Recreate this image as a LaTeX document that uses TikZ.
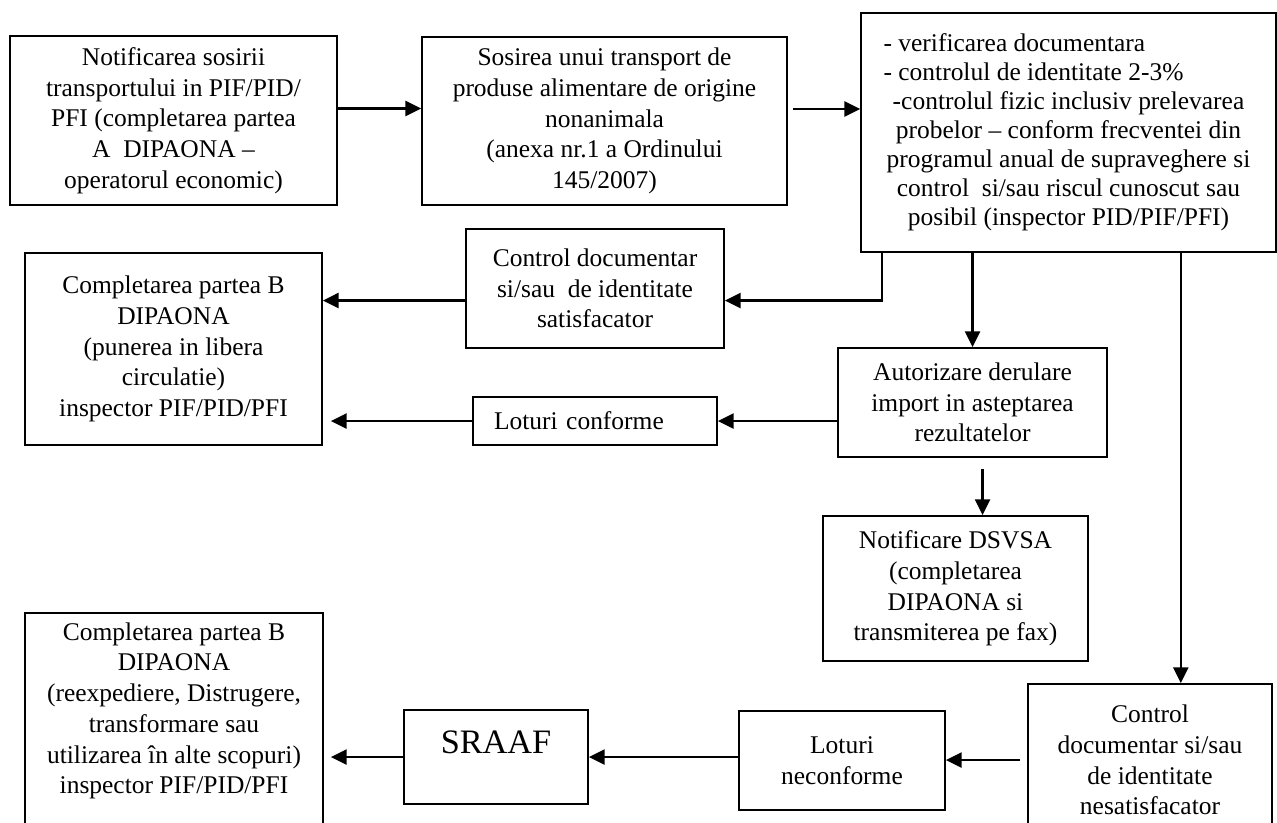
\documentclass[tikz,border=0pt]{standalone}
\usepackage{fontspec}
\setmainfont{Liberation Serif}
\usetikzlibrary{arrows.meta, positioning, calc}

\begin{document}
\begin{tikzpicture}[x=0.02cm, y=-0.02cm,
    every node/.style={font=\fontsize{14.5}{17.5}\selectfont},
    box/.style={draw, line width=1pt, align=center, inner sep=2pt},
    arr/.style={line width=1.5pt, -{Triangle[length=9pt, width=8.5pt]}}]
  \useasboundingbox (0,0) rectangle (1277,822);
  % Row 1: arrival
  \node[box, minimum width=6.54cm, minimum height=3.38cm] (notif) at (173.5,120.5)
    {Notificarea sosirii\\ transportului in PIF/PID/\\ PFI (completarea partea\\ A\ \ DIPAONA –\\ operatorul economic)};
  \node[box, minimum width=7.3cm, minimum height=3.36cm] (sosire) at (604.5,121)
    {Sosirea unui transport de\\ produse alimentare de origine\\ nonanimala\\ (anexa nr.1 a Ordinului\\ 145/2007)};
  \node[box, minimum width=8.3cm, minimum height=4.78cm, font=\fontsize{14.5}{16.5}\selectfont] (verif) at (1068.5,132.5)
    {\makebox[7.4cm][l]{- verificarea documentara}\\
     \makebox[7.4cm][l]{- controlul de identitate 2-3\%}\\
     -controlul fizic inclusiv prelevarea\\ probelor – conform frecventei din\\
     programul anual de supraveghere si\\ control\ \ si/sau riscul cunoscut sau\\
     posibil (inspector PID/PIF/PFI)};
  % Row 2: satisfactory control
  \node[box, minimum width=5.16cm, minimum height=2.38cm] (ctrlok) at (595,288.5)
    {Control documentar\\ si/sau\ \ de identitate\\ satisfacator};
  \node[box, minimum width=5.94cm, minimum height=3.84cm] (liberB) at (173.5,349)
    {Completarea partea B\\ DIPAONA\\ (punerea in libera\\ circulatie)\\ inspector PIF/PID/PFI};
  \node[box, align=left, text width=4.04cm, inner xsep=0.42cm, minimum height=0.96cm] (lotok) at (595,421)
    {Loturi conforme};
  \node[box, minimum width=5.38cm, minimum height=2.18cm] (autor) at (972.5,402.5)
    {Autorizare derulare\\ import in asteptarea\\ rezultatelor};
  \node[box, minimum width=5.3cm, minimum height=2.9cm] (dsvsa) at (955.5,588.5)
    {Notificare DSVSA\\ (completarea\\ DIPAONA si\\ transmiterea pe fax)};
  % Row 3: unsatisfactory control
  \node[box, minimum width=4.88cm, minimum height=3.04cm] (ctrlnok) at (1150,760)
    {Control\\ documentar si/sau\\ de identitate\\ nesatisfacator};
  \node[box, minimum width=4.12cm, minimum height=1.98cm] (lotnok) at (842,760.5)
    {Loturi\\ neconforme};
  \node[box, minimum width=3.68cm, minimum height=1.88cm, text height=0.5cm, text depth=0.64cm,
    font=\fontsize{19.5}{22}\selectfont] (sraaf) at (496,757) {SRAAF};
  \node[box, minimum width=5.96cm, minimum height=4.44cm] (respinsB) at (174,724) {};
  \node[anchor=north, align=center] (respinsBtxt) at ($(respinsB.north)+(0,4)$)
    {Completarea partea B\\ DIPAONA\\ (reexpediere, Distrugere,\\ transformare sau\\ utilizarea în alte scopuri)\\ inspector PIF/PID/PFI};
  % Arrows row 1
  \draw[arr] ($(notif.east)+(0,-12)$) coordinate (ab) -- (sosire.west |- ab);
  \draw[arr, shorten <=0.1cm] ($(sosire.east)+(0,-12)$) coordinate (bc) -- (verif.west |- bc);
  % Satisfactory branch
  \draw[arr] ($(verif.south west)+(22,0)$) |- ($(ctrlok.east)+(0,12)$);
  \draw[arr] ($(ctrlok.west)+(0,12)$) coordinate (ed) -- (liberB.east |- ed);
  % Authorisation branch
  \draw[arr] (verif.south -| autor.north) -- (autor.north);
  \draw[arr] (autor.west |- lotok.east) -- (lotok.east);
  \draw[arr, shorten >=0.16cm] (lotok.west) -- (liberB.east |- lotok.west);
  \draw[arr, shorten <=0.22cm] ($(autor.south)+(10,0)$) coordinate (fh) -- (fh |- dsvsa.north);
  % Unsatisfactory branch
  \draw[arr] ($(verif.south east)+(-96,0)$) coordinate (ci) -- (ci |- ctrlnok.north);
  \draw[arr, shorten <=0.14cm] (ctrlnok.west) -- (lotnok.east |- ctrlnok.west);
  \draw[arr] (lotnok.west |- sraaf.east) -- (sraaf.east);
  \draw[arr, shorten >=0.14cm] (sraaf.west) -- (respinsB.east |- sraaf.west);
\end{tikzpicture}
\end{document}
